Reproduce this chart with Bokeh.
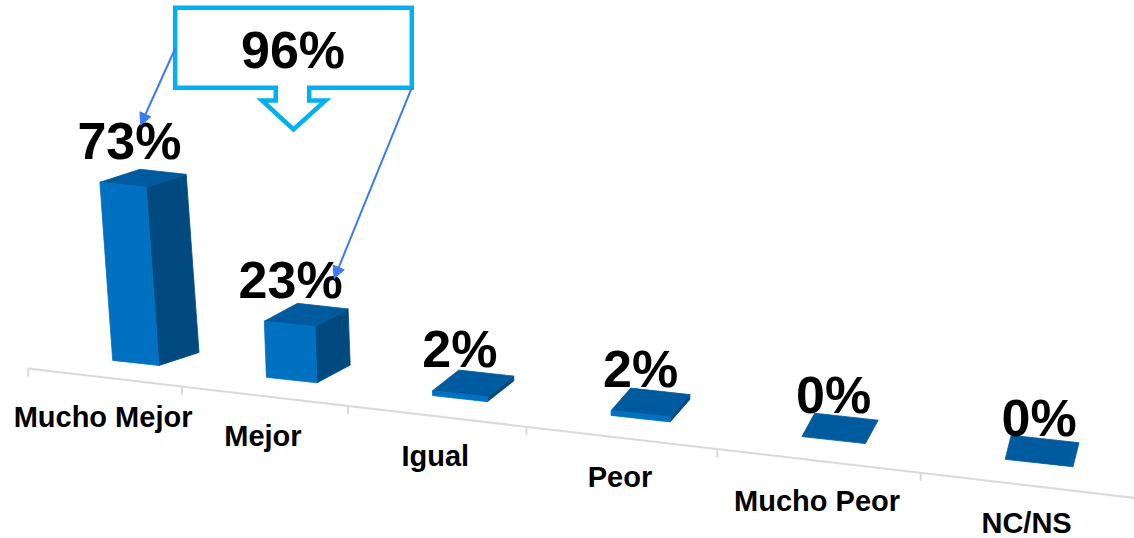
from bokeh.plotting import figure
from bokeh.models import Range1d, Arrow, NormalHead, ColumnDataSource
from bokeh.core.properties import value
from bokeh.embed import file_html
from bokeh.resources import INLINE

# ---------------- data ----------------
categories = ["Mucho Mejor", "Mejor", "Igual", "Peor", "Mucho Peor", "NC/NS"]
values = [73, 23, 2, 2, 0, 0]
callout_members = [0, 1]          # bars summed in the callout box
callout_total = sum(values[i] for i in callout_members)

# ---------------- styles ----------------
FONT = value("Liberation Sans")
FRONT = "#0070C0"
SIDE = "#004A80"
TOP = "#005A9E"
AXIS = "#D9D9D9"
CALLOUT = "#00B0F0"
ARROW = "#3C7BEF"
BIG, SMALL = 52, 29
SHIFT = 0.355   # text anchor correction (em) so the alphabetic baseline lands where wanted

# ---------------- perspective layout ----------------
def tick_x(k):
    return 27.7 + 147.5 * k + 6.2 * k * k

def axis_y(x):
    return 368 + 0.117 * (x - 27.7)

PX_PER_UNIT = 2.44

def bar_geometry(i, v):
    fx = tick_x(i) + 84.5
    fy = axis_y(fx) - (18 + 1.1 * i)
    w = 46.3 + 4.3 * i
    dx, dy = 40 - 6.8 * i, -25 + 12 * 0.6 ** i
    lean = -0.072 + 0.035 * i
    h = v * PX_PER_UNIT
    bl = (fx, fy)
    br = (fx + w, fy + 0.11 * w)
    tl = (bl[0] + lean * h, bl[1] - h)
    tr = (br[0] + lean * h, br[1] - h)
    faces = {}
    if h > 0:
        faces["side"] = [br, (br[0] + dx, br[1] + dy), (tr[0] + dx, tr[1] + dy), tr]
        faces["front"] = [bl, br, tr, tl]
    faces["top"] = [tl, tr, (tr[0] + dx, tr[1] + dy), (tl[0] + dx, tl[1] + dy)]
    label = (tl[0] + w / 2 - lean * h / 2, tl[1] - 23)
    return faces, label

W_PLOT, H_PLOT = 1134, 538
p = figure(width=W_PLOT, height=H_PLOT,
           x_range=Range1d(0, W_PLOT), y_range=Range1d(H_PLOT, 0),
           output_backend="svg", toolbar_location=None, min_border=0)
p.axis.visible = False
p.grid.visible = False
p.outline_line_color = None
p.background_fill_color = "white"
p.border_fill_color = "white"

def base(y, size):
    return y - SHIFT * size

# axis line and ticks
x0, x1 = tick_x(0), 1140
p.line([x0, x1], [axis_y(x0), axis_y(x1)], line_color=AXIS, line_width=2)
tx = [tick_x(k) for k in range(len(categories) + 1)]
p.segment(x0=tx, y0=[axis_y(x) for x in tx], x1=tx, y1=[axis_y(x) + 8 for x in tx],
          line_color=AXIS, line_width=2)

# category labels
lx = [(tick_x(k) + tick_x(k + 1)) / 2 - 2 for k in range(len(categories))]
ly = [base(min(axis_y(x) + 50, 533), SMALL) for x in lx]
p.text(x=lx, y=ly, text=categories, text_font=FONT, text_font_style="bold",
       text_font_size=f"{SMALL}px", text_align="center", text_baseline="alphabetic",
       text_color="black")

# bars
face_xs, face_ys, face_cols = [], [], []
lab_x, lab_y = [], []
for i, v in enumerate(values):
    faces, lab = bar_geometry(i, v)
    for name, col in (("side", SIDE), ("top", TOP), ("front", FRONT)):
        if name in faces:
            face_xs.append([pt[0] for pt in faces[name]])
            face_ys.append([pt[1] for pt in faces[name]])
            face_cols.append(col)
    lab_x.append(lab[0])
    lab_y.append(lab[1])

src = ColumnDataSource(dict(xs=face_xs, ys=face_ys, c=face_cols))
p.patches("xs", "ys", source=src, fill_color="c", line_color="c", line_width=0.8)

p.text(x=lab_x, y=[base(y, BIG) for y in lab_y], text=[f"{v}%" for v in values],
       text_font=FONT, text_font_style="bold", text_font_size=f"{BIG}px",
       text_align="center", text_baseline="alphabetic", text_color="black")

# callout box with down arrow
bx0, bx1, by0, by1 = 174.7, 411.3, 7.2, 87.2
sx0, sx1, ay, ax0, ax1, tipx, tipy = 275.3, 308.7, 100, 261.5, 325, 293, 129
cx = [bx0, bx1, bx1, sx1, sx1, ax1, tipx, ax0, sx0, sx0, bx0]
cy = [by0, by0, by1, by1, ay, ay, tipy, ay, ay, by1, by1]
p.patch(cx, cy, fill_color="white", line_color=CALLOUT, line_width=4.5, line_join="miter")
p.text(x=[(bx0 + bx1) / 2 - 0.5], y=[base(67.5, BIG)], text=[f"{callout_total}%"],
       text_font=FONT, text_font_style="bold", text_font_size=f"{BIG}px",
       text_align="center", text_baseline="alphabetic", text_color="black")

# arrows from the callout to the summed bars' labels
starts = [(bx0, 48), (bx1, by1)]
offsets = [(11.1, -34), (43.5, -19.6)]
for (sx, sy), i, (ox, oy) in zip(starts, callout_members, offsets):
    p.add_layout(Arrow(x_start=sx, y_start=sy, x_end=lab_x[i] + ox, y_end=lab_y[i] + oy,
                       line_color=ARROW, line_width=2,
                       end=NormalHead(size=12, fill_color=ARROW, line_color=ARROW)))

open("out.html", "w").write(file_html(p, INLINE))
